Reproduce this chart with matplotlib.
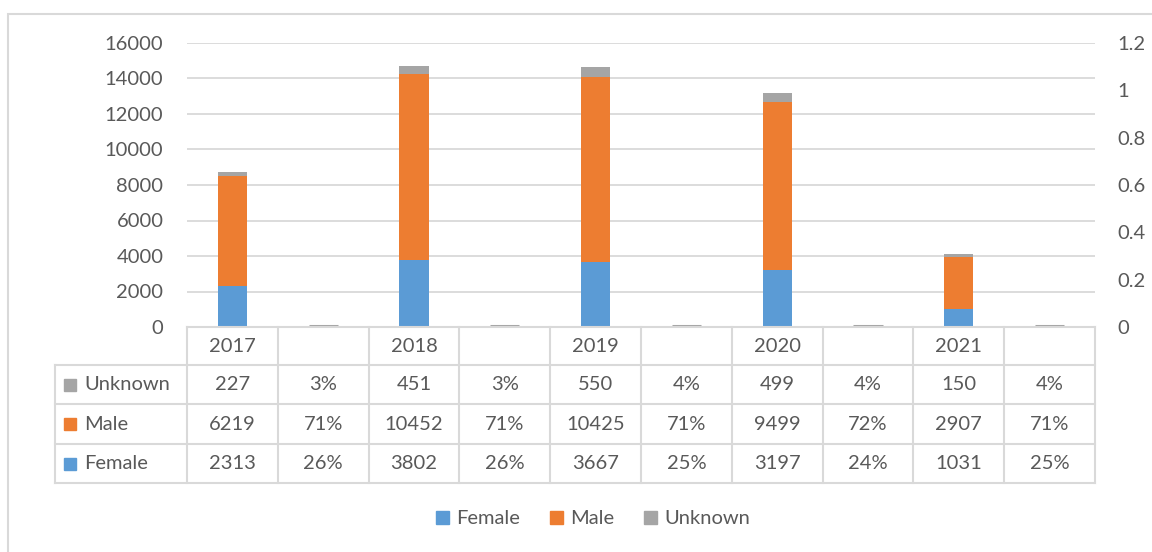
import matplotlib
matplotlib.use("Agg")
import matplotlib.pyplot as plt
from matplotlib.patches import Rectangle, Patch
from matplotlib.lines import Line2D

categories = ['2017', '', '2018', '', '2019', '', '2020', '', '2021', '']
female = [2313, 0.26, 3802, 0.26, 3667, 0.25, 3197, 0.24, 1031, 0.25]
male = [6219, 0.71, 10452, 0.71, 10425, 0.71, 9499, 0.72, 2907, 0.71]
unknown = [227, 0.03, 451, 0.03, 550, 0.04, 499, 0.04, 150, 0.04]
series_names = ['Female', 'Male', 'Unknown']
left_ticks = [0, 2000, 4000, 6000, 8000, 10000, 12000, 14000, 16000]
right_ticks = [0, 0.2, 0.4, 0.6, 0.8, 1, 1.2]

C_F, C_M, C_U = '#5B9BD5', '#ED7D31', '#A5A5A5'
TXT = '#595959'
GRID = '#D9D9D9'
FS = 14.5
plt.rcParams['font.family'] = ['Lato', 'DejaVu Sans']

W, H = 1152, 552
fig = plt.figure(figsize=(W / 100, H / 100), dpi=100)

def fx(px):
    return px / W

def fy(py):
    return 1 - py / H

ax_l, ax_r, ax_t, ax_b = 187, 1095, 43, 327
ax = fig.add_axes([fx(ax_l), fy(ax_b), fx(ax_r - ax_l), fy(ax_t) - fy(ax_b)])
x = list(range(len(categories)))
bw = 0.32
for i in x:
    if female[i] < 1:
        # percentage columns: stacks are far too small for the count scale
        total = female[i] + male[i] + unknown[i]
        ax.hlines(total + 60, i - bw / 2, i + bw / 2, color=C_U, linewidth=2.2, zorder=3)
        continue
    ax.bar(i, female[i], bw, color=C_F, zorder=3)
    ax.bar(i, male[i], bw, bottom=female[i], color=C_M, zorder=3)
    ax.bar(i, unknown[i], bw, bottom=female[i] + male[i], color=C_U, zorder=3)
ax.set_xlim(-0.5, len(categories) - 0.5)
ax.set_ylim(0, 16000)
ax.set_yticks(left_ticks)
ax.set_yticklabels([str(t) for t in left_ticks])
ax.grid(axis='y', color=GRID, linewidth=1.3, zorder=0)
ax.set_xticks([])
for s in ax.spines.values():
    s.set_visible(False)
ax.tick_params(axis='y', length=0, pad=17, labelsize=FS, labelcolor=TXT)

ax2 = ax.twinx()
ax2.set_ylim(0, 1.2)
ax2.set_yticks(right_ticks)
ax2.set_yticklabels(['0', '0.2', '0.4', '0.6', '0.8', '1', '1.2'])
for s in ax2.spines.values():
    s.set_visible(False)
ax2.tick_params(axis='y', length=0, pad=16, labelsize=FS, labelcolor=TXT)

# outer chart border
fig.add_artist(Rectangle((fx(8), -0.1), 1.2, fy(14) + 0.1, transform=fig.transFigure,
                         fill=False, edgecolor=GRID, linewidth=1.5))

# data table
col_w = (ax_r - ax_l) / len(categories)
row_y = [327, 365, 404, 444, 483]
tbl_left = 55
lkw = dict(transform=fig.transFigure, color=GRID, linewidth=1.5)
fig.add_artist(Line2D([fx(ax_l), fx(ax_r)], [fy(row_y[0])] * 2, **lkw))
for ry in row_y[1:]:
    fig.add_artist(Line2D([fx(tbl_left), fx(ax_r)], [fy(ry)] * 2, **lkw))
fig.add_artist(Line2D([fx(tbl_left)] * 2, [fy(row_y[1]), fy(row_y[4])], **lkw))
for j in range(len(categories) + 1):
    xx = ax_l + j * col_w
    fig.add_artist(Line2D([fx(xx)] * 2, [fy(row_y[0]), fy(row_y[4])], **lkw))

def fmt(v):
    return f"{v:.0%}" if v < 1 else str(int(v))

tkw = dict(transform=fig.transFigure, color=TXT, fontsize=FS, va='center', ha='center')
for j, c in enumerate(categories):
    cx = ax_l + (j + 0.5) * col_w
    fig.text(fx(cx), fy((row_y[0] + row_y[1]) / 2), c, **tkw)
rows = [('Unknown', unknown, C_U), ('Male', male, C_M), ('Female', female, C_F)]
for r, (name, vals, col) in enumerate(rows):
    cy = (row_y[r + 1] + row_y[r + 2]) / 2
    fig.add_artist(Rectangle((fx(64), fy(cy + 6)), fx(12), fy(cy - 6) - fy(cy + 6),
                             transform=fig.transFigure, color=col))
    fig.text(fx(84), fy(cy), name, transform=fig.transFigure, color=TXT, fontsize=FS,
             va='center', ha='left')
    for j, v in enumerate(vals):
        cx = ax_l + (j + 0.5) * col_w
        fig.text(fx(cx), fy(cy), fmt(v), **tkw)

handles = [Patch(color=C_F), Patch(color=C_M), Patch(color=C_U)]
fig.legend(handles, series_names, loc='center', bbox_to_anchor=(fx(593), fy(519)),
           ncol=3, frameon=False, fontsize=FS, labelcolor=TXT, handlelength=0.65,
           handleheight=0.65, handletextpad=0.35, columnspacing=1.5)

fig.savefig('out.png', dpi=100)
